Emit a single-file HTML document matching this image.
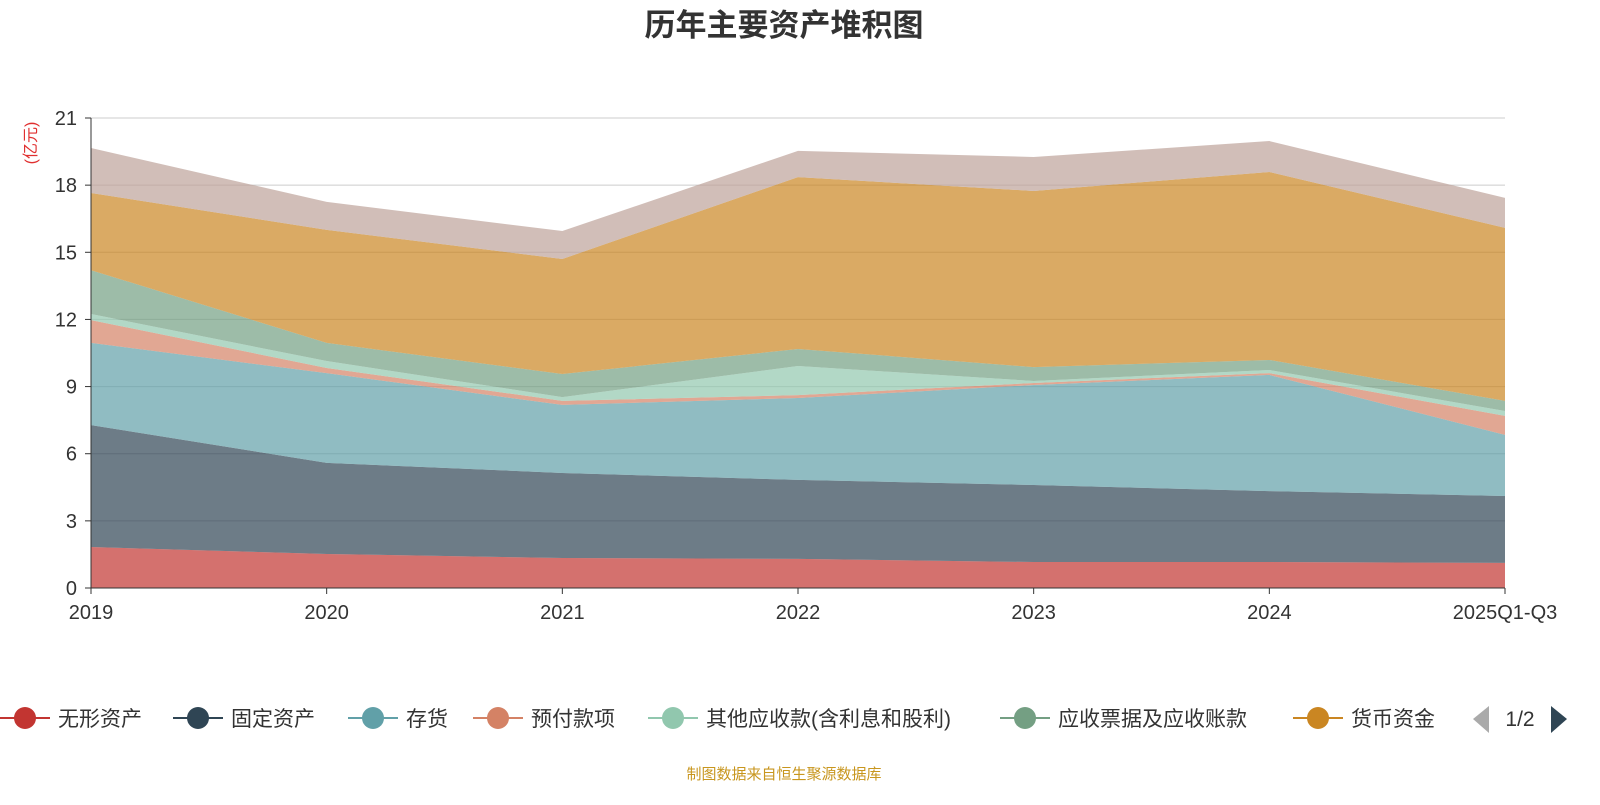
<!DOCTYPE html>
<html><head><meta charset="utf-8"><style>
body{margin:0;background:#fff;width:1600px;height:800px;overflow:hidden;font-family:"Liberation Sans","Noto Sans CJK SC",sans-serif}
</style></head><body>
<svg id="c" width="1600" height="800" xmlns="http://www.w3.org/2000/svg">
<text x="784" y="36" text-anchor="middle" font-size="31" font-weight="bold" fill="#333" font-family="Liberation Sans, Noto Sans CJK SC, sans-serif">历年主要资产堆积图</text>
<text transform="translate(36,143) rotate(-90)" text-anchor="middle" font-size="16" fill="#e03030" font-family="Liberation Sans, Noto Sans CJK SC, sans-serif">(亿元)</text>
<text x="784" y="779" text-anchor="middle" font-size="15" fill="#c8961e" font-family="Liberation Sans, Noto Sans CJK SC, sans-serif">制图数据来自恒生聚源数据库</text>
<g id="grid"></g><g id="areas"></g><g id="axes"></g><g id="legend"></g>
</svg>
<script>
const categories=["2019","2020","2021","2022","2023","2024","2025Q1-Q3"];
const seriesNames=["无形资产","固定资产","存货","预付款项","其他应收款(含利息和股利)","应收票据及应收账款","货币资金","其他"];
const s0=[1.83,1.52,1.34,1.30,1.16,1.16,1.12];
const s1=[5.45,4.07,3.80,3.53,3.44,3.17,2.99];
const s2=[3.67,4.01,3.04,3.66,4.47,5.19,2.73];
const s3=[1.02,0.23,0.18,0.13,0.09,0.08,0.85];
const s4=[0.27,0.31,0.17,1.30,0.09,0.14,0.22];
const s5=[1.96,0.81,1.03,0.76,0.62,0.45,0.45];
const s6=[3.45,5.05,5.14,7.68,7.87,8.40,7.73];
const s7=[2.01,1.25,1.25,1.17,1.52,1.38,1.34];
const yTicks=[0,3,6,9,12,15,18,21];
const colors=["#c23531","#2f4554","#61a0a8","#d48265","#91c7ae","#749f83","#ca8622","#bda29a"];
const NS="http://www.w3.org/2000/svg";
const X0=91,X1=1505,Y0=588,Y1=118;
const xs=i=>X0+(X1-X0)*i/(categories.length-1);
const ys=v=>Y0-(Y0-Y1)*v/21;
function mk(t,a,p){const e=document.createElementNS(NS,t);for(const k in a)e.setAttribute(k,a[k]);document.getElementById(p).appendChild(e);return e;}
yTicks.forEach(v=>{
 if(v>0){const l=mk("line",{x1:X0,x2:X1,y1:ys(v),y2:ys(v),stroke:"#ccc","stroke-width":1},"grid");
 
 }
 const t=mk("text",{x:X0-14,y:ys(v)+7,"text-anchor":"end","font-size":20,fill:"#333"},"axes");t.textContent=v;
 
 
 mk("line",{x1:X0-6,x2:X0,y1:ys(v),y2:ys(v),stroke:"#333"},"axes");
});
const all=[s0,s1,s2,s3,s4,s5,s6,s7];
let base=categories.map(()=>0);
all.forEach((s,k)=>{
 const top=base.map((b,i)=>b+s[i]);
 let d="M"+top.map((v,i)=>xs(i)+","+ys(v)).join("L");
 for(let i=categories.length-1;i>=0;i--)d+="L"+xs(i)+","+ys(base[i]);
 const p=mk("path",{d:d+"Z",fill:colors[k],"fill-opacity":0.7,stroke:"none"},"areas");
 
 
 base=top;
});
mk("line",{x1:X0,x2:X0,y1:Y1,y2:Y0,stroke:"#333"},"axes");
mk("line",{x1:X0,x2:X1,y1:Y0,y2:Y0,stroke:"#333"},"axes");
categories.forEach((c,i)=>{
 mk("line",{x1:xs(i),x2:xs(i),y1:Y0,y2:Y0+6,stroke:"#333"},"axes");
 const t=mk("text",{x:xs(i),y:Y0+31,"text-anchor":"middle","font-size":20,fill:"#333"},"axes");t.textContent=c;
 
 
});
const legX=[0,173,348,473,648,1000,1293];
for(let k=0;k<7;k++){
 const g=mk("g",{},"legend");
 
 
 const x=legX[k],y=718;
 const l=document.createElementNS(NS,"line");l.setAttribute("x1",x);l.setAttribute("x2",x+50);l.setAttribute("y1",y);l.setAttribute("y2",y);l.setAttribute("stroke",colors[k]);l.setAttribute("stroke-width",2);g.appendChild(l);
 const c=document.createElementNS(NS,"circle");c.setAttribute("cx",x+25);c.setAttribute("cy",y);c.setAttribute("r",11);c.setAttribute("fill",colors[k]);g.appendChild(c);
 const t=document.createElementNS(NS,"text");t.setAttribute("x",x+58);t.setAttribute("y",y+8);t.setAttribute("font-size",21);t.setAttribute("fill","#333");t.textContent=seriesNames[k];g.appendChild(t);
}
const pl=mk("path",{d:"M1489,706L1473,719L1489,733Z",fill:"#aaa"},"legend");


const pn=mk("path",{d:"M1551,706L1567,719L1551,733Z",fill:"#2f4554"},"legend");


const pt=mk("text",{x:1520,y:726,"text-anchor":"middle","font-size":21,fill:"#333"},"legend");pt.textContent="1/2";


</script>
</body></html>
